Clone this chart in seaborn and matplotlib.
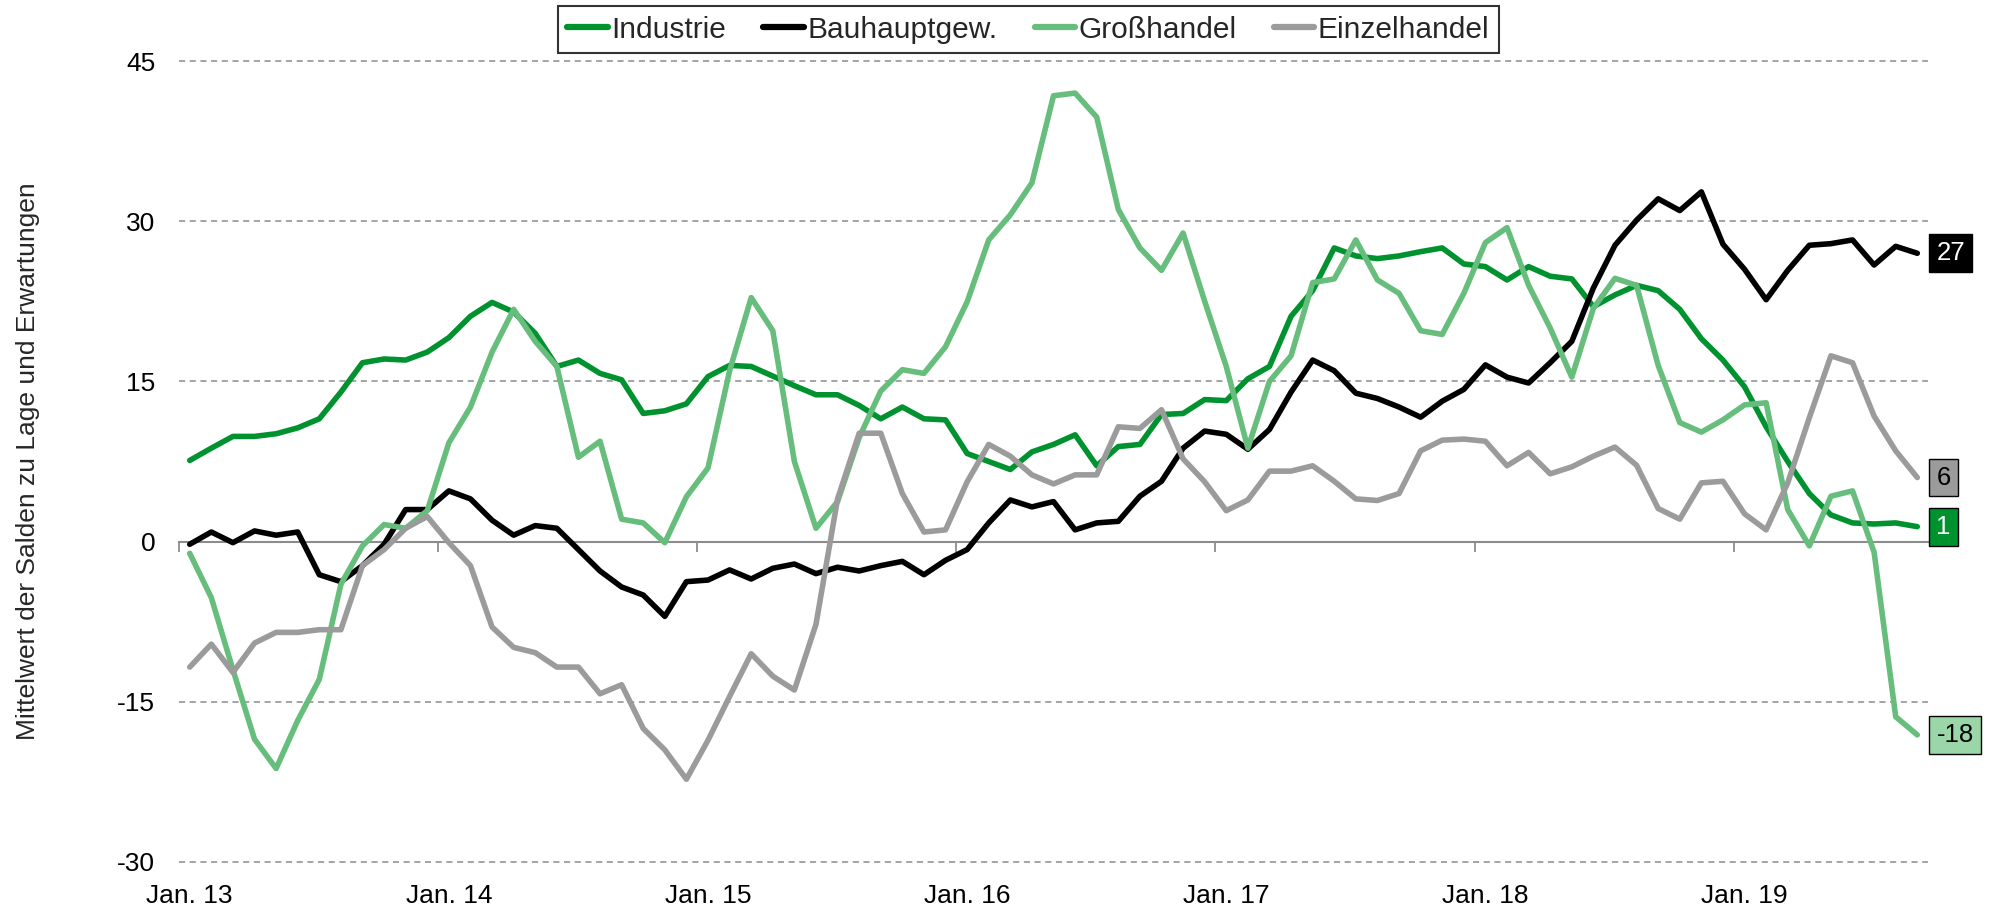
import matplotlib
matplotlib.use("Agg")
import matplotlib.pyplot as plt
import matplotlib.transforms as mtransforms
import seaborn as sns
import numpy as np
import pandas as pd

# monthly values, Jan 2013 .. Sep 2019
industrie = [7.6, 8.75, 9.85, 9.85, 10.1, 10.65, 11.5, 14.0, 16.75, 17.1, 17.0, 17.75,
             19.1, 21.1, 22.4, 21.5, 19.5, 16.4, 17.0, 15.75, 15.15, 12.0, 12.25, 12.9,
             15.45, 16.5, 16.4, 15.5, 14.6, 13.75, 13.75, 12.75, 11.5, 12.6, 11.5, 11.4,
             8.25, 7.5, 6.75, 8.4, 9.1, 10.0, 7.1, 8.9, 9.1, 11.9, 12.0, 13.3,
             13.2, 15.25, 16.4, 21.1, 23.5, 27.5, 26.75, 26.5, 26.75, 27.15, 27.5, 26.0,
             25.75, 24.5, 25.75, 24.85, 24.6, 22.0, 23.1, 24.0, 23.5, 21.75, 19.0, 17.0,
             14.5, 10.75, 7.5, 4.5, 2.5, 1.75, 1.65, 1.75, 1.4]
bau = [-0.25, 0.9, -0.1, 1.0, 0.6, 0.9, -3.1, -3.75, -2.25, -0.25, 3.0, 3.0,
       4.75, 4.0, 2.0, 0.6, 1.5, 1.25, -0.75, -2.75, -4.25, -5.0, -7.0, -3.75,
       -3.6, -2.65, -3.5, -2.5, -2.1, -3.0, -2.4, -2.75, -2.25, -1.85, -3.1, -1.75,
       -0.75, 1.75, 3.9, 3.25, 3.75, 1.1, 1.75, 1.9, 4.25, 5.65, 8.75, 10.35,
       10.05, 8.65, 10.5, 14.0, 17.0, 16.0, 13.9, 13.4, 12.6, 11.65, 13.15, 14.25,
       16.55, 15.4, 14.85, 16.75, 18.75, 23.75, 27.75, 30.1, 32.1, 31.0, 32.75, 27.85,
       25.5, 22.65, 25.4, 27.75, 27.9, 28.25, 25.9, 27.65, 27.0]
gross = [-1.1, -5.25, -12.0, -18.5, -21.25, -16.75, -12.9, -4.0, -0.4, 1.6, 1.25, 2.9,
         9.25, 12.6, 17.75, 21.75, 18.75, 16.4, 7.9, 9.4, 2.1, 1.75, -0.1, 4.2,
         6.9, 16.0, 22.85, 19.75, 7.5, 1.25, 3.75, 9.75, 14.1, 16.1, 15.75, 18.25,
         22.45, 28.25, 30.6, 33.6, 41.75, 42.0, 39.75, 31.1, 27.5, 25.4, 28.9, 22.5,
         16.4, 8.75, 15.0, 17.4, 24.25, 24.6, 28.25, 24.5, 23.25, 19.75, 19.4, 23.25,
         28.0, 29.4, 24.0, 20.0, 15.4, 21.85, 24.65, 24.0, 16.5, 11.15, 10.25, 11.4,
         12.8, 13.0, 3.0, -0.4, 4.25, 4.75, -1.0, -16.4, -18.1]
einzel = [-11.75, -9.6, -12.25, -9.5, -8.5, -8.5, -8.25, -8.25, -2.25, -0.75, 1.25, 2.35,
          -0.1, -2.25, -8.0, -9.9, -10.4, -11.75, -11.75, -14.25, -13.4, -17.5, -19.5, -22.25,
          -18.6, -14.5, -10.5, -12.6, -13.9, -7.75, 4.0, 10.15, 10.15, 4.5, 0.9, 1.1,
          5.6, 9.1, 8.0, 6.25, 5.4, 6.25, 6.25, 10.75, 10.6, 12.35, 7.75, 5.6,
          2.9, 3.9, 6.6, 6.6, 7.1, 5.65, 4.0, 3.85, 4.5, 8.5, 9.5, 9.6,
          9.4, 7.1, 8.35, 6.35, 7.0, 8.0, 8.85, 7.15, 3.1, 2.1, 5.5, 5.65,
          2.6, 1.1, 5.5, 11.6, 17.4, 16.75, 11.75, 8.5, 6.0]

series_names = ["Industrie", "Bauhauptgew.", "Großhandel", "Einzelhandel"]
series_vals = [industrie, bau, gross, einzel]
colors = ["#00922f", "#000000", "#66bd7c", "#9b9b9b"]
end_labels = ["1", "27", "-18", "6"]
box_colors = ["#00922f", "#000000", "#9bd6a9", "#9b9b9b"]
box_text = ["white", "white", "black", "black"]

tick_labels = ["Jan. 13", "Jan. 14", "Jan. 15", "Jan. 16", "Jan. 17", "Jan. 18", "Jan. 19"]
y_ticks = [-30, -15, 0, 15, 30, 45]

n = len(industrie)
rows = []
for name, vals in zip(series_names, series_vals):
    for i, v in enumerate(vals):
        rows.append({"monat": i, "wert": v, "serie": name})
df = pd.DataFrame(rows)

sns.set_style("white")
plt.rcParams["font.family"] = ["Liberation Sans", "DejaVu Sans"]

fig = plt.figure(figsize=(19.97, 9.11), dpi=100)
ax = fig.add_axes([0.0896, 0.0538, 0.8759, 0.8792])

sns.lineplot(data=df, x="monat", y="wert", hue="serie", hue_order=series_names,
             palette=colors, linewidth=4.0, ax=ax, legend=True)

ax.set_xlim(-0.5, n - 0.5)
ax.set_ylim(y_ticks[0], y_ticks[-1])
ax.set_yticks(y_ticks)
ax.set_yticklabels([str(t) for t in y_ticks])
# labels sit on the January points, tick marks between months
label_pos = [12 * k for k in range(len(tick_labels))]
mark_pos = [p - 0.5 for p in label_pos]
ax.set_xticks(label_pos)
ax.set_xticklabels(tick_labels)
ax.tick_params(axis="both", length=0, labelsize=19, colors="black")
ax.tick_params(axis="y", pad=17)
ax.tick_params(axis="x", pad=16)
ax.yaxis.grid(True, linestyle=(0, (4, 3)), color="#8c8c8c", linewidth=1.1)
for gl in ax.get_ygridlines():
    gl.set_clip_on(False)
ax.xaxis.grid(False)
for s in ax.spines.values():
    s.set_visible(False)
ax.set_xlabel("")
ax.set_ylabel("Mittelwert der Salden zu Lage und Erwartungen", fontsize=19, labelpad=56)

# zero line with year tick marks
loc0 = (0 - y_ticks[0]) / (y_ticks[-1] - y_ticks[0])
sec = ax.secondary_xaxis(loc0)
sec.set_xticks(mark_pos)
sec.tick_params(axis="x", length=7, width=1.3, color="#8c8c8c", labelbottom=False, direction="out")
sec.spines["bottom"].set_color("#8c8c8c")
sec.spines["bottom"].set_linewidth(1.5)
for k in ["top", "left", "right"]:
    sec.spines[k].set_visible(False)

# end-of-series labels
trans = mtransforms.blended_transform_factory(ax.transAxes, ax.transData)
for vals, lab, bc, tc in zip(series_vals, end_labels, box_colors, box_text):
    ax.annotate(lab, xy=(1, vals[-1]), xycoords=trans, xytext=(6, 0),
                textcoords="offset points", ha="left", va="center", fontsize=18.5,
                color=tc, bbox=dict(boxstyle="square,pad=0.27", fc=bc, ec="black", lw=1),
                annotation_clip=False)

handles, labels = ax.get_legend_handles_labels()
ax.get_legend().remove()
leg = fig.legend(handles, labels, loc="upper center", bbox_to_anchor=(0.515, 0.993),
                 ncol=4, frameon=True, fancybox=False, edgecolor="black",
                 handlelength=1.35, handletextpad=0.12, columnspacing=1.25,
                 borderpad=0.32, borderaxespad=0, prop={"size": 21.5})
leg.get_frame().set_linewidth(1.5)
for h in leg.get_lines():
    h.set_linewidth(4.5)

plt.savefig("out.png", dpi=100)
